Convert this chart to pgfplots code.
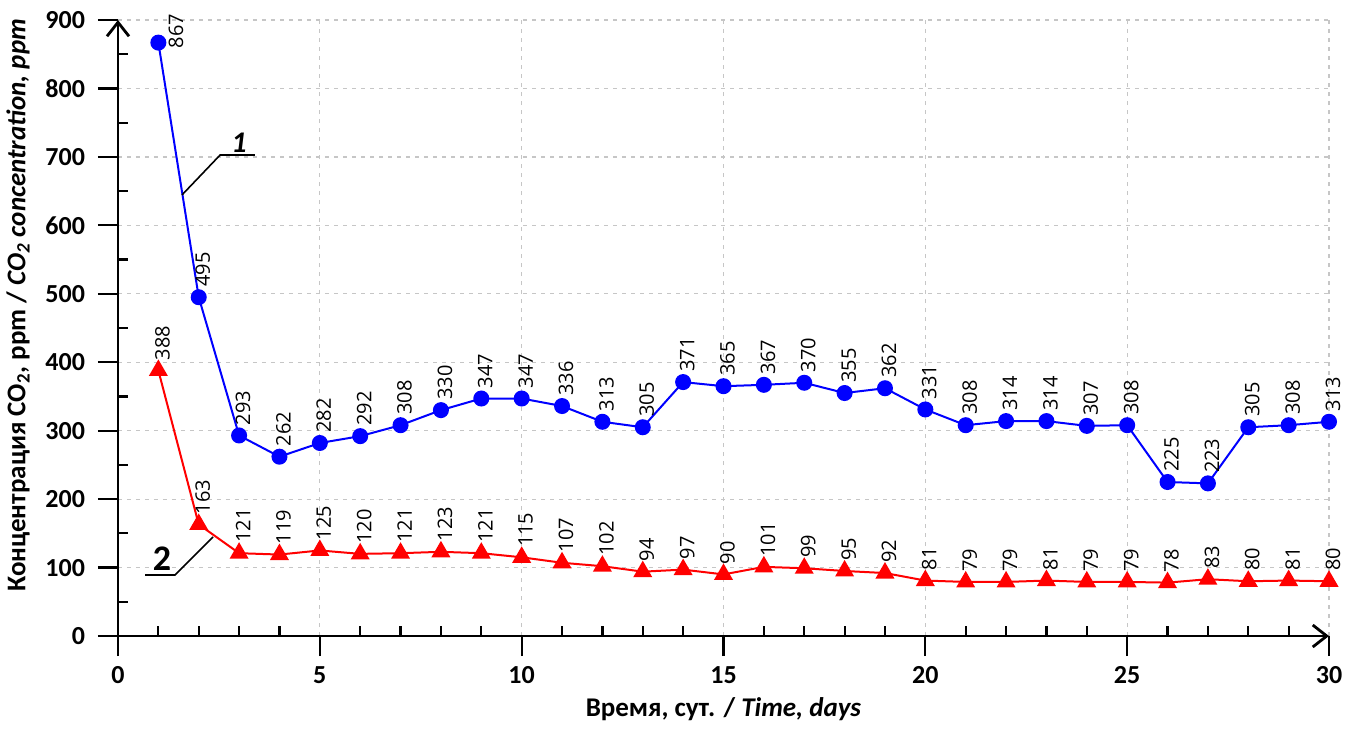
\documentclass[border=0pt]{standalone}
\usepackage{fontspec}
\setmainfont{Carlito}
\newfontfamily\labfont{Open Sans}
\usepackage{pgfplots}
\pgfplotsset{compat=1.18}
\usetikzlibrary{arrows.meta}

\begin{document}
\begin{tikzpicture}
\useasboundingbox (-59pt,-46.5pt) rectangle (620.5pt,318pt);
\begin{axis}[
  scale only axis, width=605.5pt, height=308pt,
  xmin=0, xmax=30, ymin=0, ymax=900,
  axis lines=left,
  axis line style={line width=1.1pt, -{Straight Barb[length=7pt,width=11pt,line width=1.4pt]}},
  xtick={0,5,...,30}, ytick={0,100,...,900},
  minor x tick num=4, minor y tick num=1,
  tick align=outside, major tick length=10pt, minor tick length=-5pt,
  tick style={black, line width=1.1pt},
  grid=major,
  major grid style={dash pattern=on 2pt off 2.5pt, gray!45, line width=0.6pt},
  tick label style={font=\bfseries\fontsize{13}{15}\selectfont},
  xticklabel style={yshift=-4pt, inner sep=1pt},
  yticklabel style={xshift=-3pt},
  /pgf/number format/assume math mode=true,
  label style={font=\bfseries\fontsize{13.5}{15}\selectfont, inner sep=1pt},
  xlabel={Время, сут. / \textit{Time, days}},
  ylabel={Концентрация CO\textsubscript{2}, ppm / \textit{CO\textsubscript{2} concentration, ppm}},
  xlabel style={at={(rel axis cs:0.5,0)}, anchor=base, yshift=-40pt},
  ylabel style={at={(rel axis cs:0,0.537)}, anchor=center, yshift=50pt},
  clip=false,
]
% 1
\addplot[blue, line width=1pt, mark=*, mark size=3.5pt] coordinates {
(1,867) (2,495) (3,293) (4,262) (5,282) (6,292) (7,308) (8,330) (9,347) (10,347)
(11,336) (12,313) (13,305) (14,371) (15,365) (16,367) (17,370) (18,355) (19,362) (20,331)
(21,308) (22,314) (23,314) (24,307) (25,308) (26,225) (27,223) (28,305) (29,308) (30,313)};
% 2
\addplot[red, line width=1pt, mark=triangle*, mark size=4.5pt] coordinates {
(1,388) (2,163) (3,121) (4,119) (5,125) (6,120) (7,121) (8,123) (9,121) (10,115)
(11,107) (12,102) (13,94) (14,97) (15,90) (16,101) (17,99) (18,95) (19,92) (20,81)
(21,79) (22,79) (23,81) (24,79) (25,79) (26,78) (27,83) (28,80) (29,81) (30,80)};

% value labels
\pgfplotsset{vlab/.style={only marks, mark=none, nodes near coords,
  nodes near coords style={text=black, font=\labfont\fontsize{10}{10}\selectfont,
  inner sep=1pt, xshift=2pt, yshift=4pt, rotate=90, anchor=west}}}
\addplot[vlab] coordinates {
(2,495) (3,293) (4,262) (5,282) (6,292) (7,308) (8,330) (9,347) (10,347)
(11,336) (12,313) (13,305) (14,371) (15,365) (16,367) (17,370) (18,355) (19,362) (20,331)
(21,308) (22,314) (23,314) (24,307) (25,308) (26,225) (27,223) (28,305) (29,308) (30,313)};
\addplot[only marks, mark=none, nodes near coords,
  nodes near coords style={text=black, font=\labfont\fontsize{10}{10}\selectfont,
  inner sep=0pt, xshift=5pt, yshift=-3pt, rotate=90, anchor=north west}]
  coordinates {(1,867)};
\addplot[vlab] coordinates {
(1,388) (2,163) (3,121) (4,119) (5,125) (6,120) (7,121) (8,123) (9,121) (10,115)
(11,107) (12,102) (13,94) (14,97) (15,90) (16,101) (17,99) (18,95) (19,92) (20,81)
(21,79) (22,79) (23,81) (24,79) (25,79) (26,78) (27,83) (28,80) (29,81) (30,80)};

% callouts
\draw[black, line width=0.8pt] (axis cs:3.39,702.8) -- (axis cs:2.53,702.8) -- (axis cs:1.585,644.4);
\node[anchor=south, inner sep=1pt, font=\bfseries\itshape\fontsize{15}{15}\selectfont]
  at (axis cs:3.0,703) {1};
\draw[black, line width=0.8pt] (axis cs:0.669,89.1) -- (axis cs:1.412,89.1) -- (axis cs:2.353,144.7);
\node[anchor=south, inner sep=1pt, font=\bfseries\fontsize{18}{18}\selectfont]
  at (axis cs:1.09,92) {2};
\end{axis}
\end{tikzpicture}
\end{document}
